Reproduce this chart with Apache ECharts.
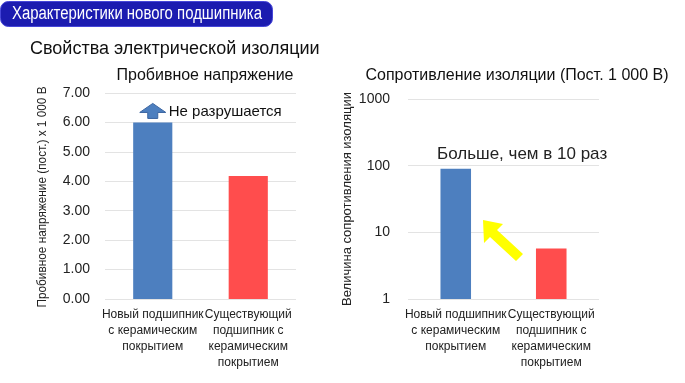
<!DOCTYPE html>
<html>
<head>
<meta charset="utf-8">
<script src="https://cdn.jsdelivr.net/npm/echarts@6/dist/echarts.min.js"></script>
<style>
html,body{margin:0;padding:0;background:#fff;}
#c{width:685px;height:383px;}
</style>
</head>
<body>
<div id="c"></div>
<script>
// ---- data ----
const categories = ['Новый подшипник\nс керамическим\nпокрытием', 'Существующий\nподшипник с\nкерамическим\nпокрытием'];
const breakdownVoltage = [6.0, 4.18];      // x 1 000 В
const insulationResistance = [90, 5.7];    // log scale
const barColors = ['#4d7fbf', '#ff4d4d'];
const leftTicks = [0, 1, 2, 3, 4, 5, 6, 7];
const rightTicks = [1, 10, 100, 1000];

const headerText = 'Характеристики нового подшипника';
const mainTitle = 'Свойства электрической изоляции';
const leftTitle = 'Пробивное напряжение';
const rightTitle = 'Сопротивление изоляции (Пост. 1 000 В)';
const leftAxisName = 'Пробивное напряжение (пост.) x 1 000 В';
const rightAxisName = 'Величина сопротивления изоляции';
const noBreakText = 'Не разрушается';
const moreText = 'Больше, чем в 10 раз';

const FONT = '"Liberation Sans", Arial, sans-serif';

function textWidth(txt, size) {
  const ctx = document.createElement('canvas').getContext('2d');
  ctx.font = size + 'px ' + FONT;
  return ctx.measureText(txt).width;
}

const chart = echarts.init(document.getElementById('c'), null, {renderer: 'canvas'});

const catAxis = (gi) => ({
  type: 'category', gridIndex: gi, data: categories,
  axisLine: {show: false}, axisTick: {show: false},
  axisLabel: {color: '#222', fontSize: 12, fontFamily: FONT, lineHeight: 16, margin: 8, interval: 0}
});

chart.setOption({
  animation: false,
  title: [
    {text: mainTitle, left: 25, top: 35, textStyle: {fontSize: 18, fontWeight: 'normal', color: '#111', fontFamily: FONT}},
    {text: leftTitle, left: 200, textAlign: 'center', top: 63, textStyle: {fontSize: 16, fontWeight: 'normal', color: '#111', fontFamily: FONT}},
    {text: rightTitle, left: 512, textAlign: 'center', top: 63, textStyle: {fontSize: 16, fontWeight: 'normal', color: '#111', fontFamily: FONT}}
  ],
  grid: [
    {left: 105, top: 93, width: 191, height: 206},
    {left: 408, top: 99, width: 191, height: 200}
  ],
  xAxis: [catAxis(0), catAxis(1)],
  yAxis: [
    {
      type: 'value', gridIndex: 0, min: 0, max: 7, interval: 1,
      axisLine: {show: false}, axisTick: {show: false},
      splitLine: {lineStyle: {color: '#e3e3e3', width: 1}},
      axisLabel: {color: '#222', fontSize: 14, fontFamily: FONT, margin: 15, formatter: v => v.toFixed(2)}
    },
    {
      type: 'log', gridIndex: 1, logBase: 10, min: 1, max: 1000,
      axisLine: {show: false}, axisTick: {show: false},
      splitLine: {lineStyle: {color: '#e3e3e3', width: 1}},
      axisLabel: {color: '#222', fontSize: 14, fontFamily: FONT, margin: 18, formatter: v => String(Math.round(v))},
      name: rightAxisName, nameLocation: 'middle', nameGap: 54, nameRotate: 90,
      nameTextStyle: {color: '#222', fontSize: 13, fontFamily: FONT}
    }
  ],
  series: [
    {
      type: 'bar', xAxisIndex: 0, yAxisIndex: 0, barWidth: '41%',
      data: breakdownVoltage.map((v, i) => ({value: v, itemStyle: {color: barColors[i]}}))
    },
    {
      type: 'bar', xAxisIndex: 1, yAxisIndex: 1, barWidth: '32%',
      data: insulationResistance.map((v, i) => ({value: v, itemStyle: {color: barColors[i]}}))
    }
  ]
});

// annotations positioned from the axes
const top0 = chart.convertToPixel({xAxisIndex: 0, yAxisIndex: 0}, [0, breakdownVoltage[0]]);
const ax = top0[0], ay = top0[1] - 4; // arrow base just above bar
const p100 = chart.convertToPixel({xAxisIndex: 1, yAxisIndex: 1}, [0, 100]);
const g0top = chart.convertToPixel({xAxisIndex: 0, yAxisIndex: 0}, [0, 7])[1];
const g0bot = chart.convertToPixel({xAxisIndex: 0, yAxisIndex: 0}, [0, 0])[1];

const headerScale = 250 / textWidth(headerText, 18);
const axisNameScale = 221 / textWidth(leftAxisName, 13);

chart.setOption({
  graphic: [
    {type: 'rect', left: 0, top: 1, shape: {width: 272, height: 25, r: 8},
     style: {fill: '#1c1cb0', stroke: '#4646d8', lineWidth: 1}},
    {type: 'text', x: 12, y: 14, scaleX: headerScale,
     style: {text: headerText, fill: '#fff', fontSize: 18, fontFamily: FONT, verticalAlign: 'middle'}},
    {type: 'text', x: 42, y: (g0top + g0bot) / 2 + 1, rotation: Math.PI / 2, scaleX: axisNameScale,
     style: {text: leftAxisName, fill: '#222', fontSize: 13, fontFamily: FONT, align: 'center', verticalAlign: 'middle'}},
    {type: 'polygon', shape: {points: [
      [ax - 13, ay - 6], [ax, ay - 15], [ax + 13, ay - 6],
      [ax + 5, ay - 6], [ax + 5, ay], [ax - 5, ay], [ax - 5, ay - 6]
    ]}, style: {fill: '#4d7fbf', stroke: '#3a64a0', lineWidth: 1}},
    {type: 'text', x: ax + 16, y: ay - 7, style: {text: noBreakText, fill: '#111', fontSize: 15, fontFamily: FONT, verticalAlign: 'middle'}},
    {type: 'text', x: 437, y: p100[1] - 11, style: {text: moreText, fill: '#222', fontSize: 17, fontFamily: FONT, verticalAlign: 'middle'}},
    {type: 'polygon', shape: {points: [
      [483, 220], [503, 224], [497, 230], [523, 254], [516, 261], [490, 237], [484, 243]
    ]}, style: {fill: '#ffff00'}}
  ]
});
</script>
</body>
</html>
